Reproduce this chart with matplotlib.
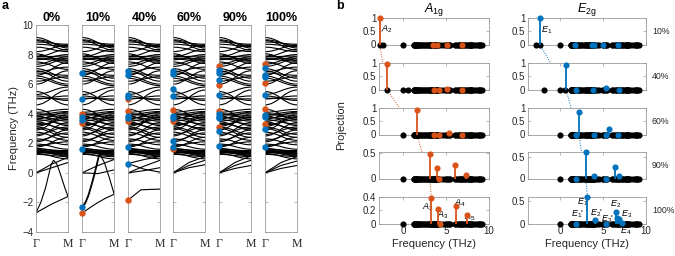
import matplotlib
matplotlib.use('Agg')
import matplotlib.pyplot as plt
from matplotlib.path import Path
from matplotlib.patches import PathPatch
from matplotlib.lines import Line2D

plt.rcParams['font.family'] = ['Liberation Sans', 'DejaVu Sans']
plt.rcParams['mathtext.fontset'] = 'custom'
plt.rcParams['mathtext.rm'] = 'Liberation Sans'
plt.rcParams['mathtext.it'] = 'Liberation Sans:italic'

BLUE = '#0072BD'
ORANGE = '#D95319'
GRAY = '#9a9a9a'
TXT = '#262626'

# ---------------- panel a: phonon bands along Gamma-M ----------------
strains = ['0%', '10%', '40%', '60%', '90%', '100%']

# optical branches (shared look): frequency at Gamma and at M, THz
opt_gamma = [9.15, 9.0, 8.95, 8.85, 8.7, 8.5, 8.2, 8.05, 7.95, 7.85, 7.85, 7.75,
             7.7, 7.65, 7.5, 7.35, 7.2, 7.05, 6.9, 6.85, 6.75, 6.6, 6.55, 6.4,
             6.2, 6.0, 5.5, 5.3, 5.2, 5.05, 5.0, 4.6, 4.3, 4.1, 4.0, 3.95,
             3.9, 3.85, 3.8, 3.7, 3.65, 3.6, 3.5, 3.45, 3.35, 3.25, 3.15, 3.1,
             3.0, 2.9, 2.75, 2.6, 2.5, 2.3, 2.2, 2.1, 1.95, 1.85, 1.75, 1.65,
             1.6, 1.55, 1.5, 1.48, 1.45, 1.42, 1.4, 1.38, 1.35, 1.3, 1.25]
opt_m = [8.45, 8.6, 8.3, 8.7, 8.55, 8.2, 8.65, 7.4, 7.6, 7.9, 8.35, 7.75,
         7.55, 8.0, 7.0, 7.85, 7.7, 6.4, 6.2, 7.15, 6.6, 7.45, 6.0, 5.9,
         6.5, 6.9, 4.6, 5.8, 4.9, 5.0, 5.2, 5.6, 3.6, 4.3, 3.7, 4.15,
         4.0, 3.2, 3.5, 3.9, 4.1, 3.3, 3.8, 2.9, 3.0, 3.6, 3.75, 2.6,
         2.4, 3.95, 2.2, 3.1, 3.4, 1.9, 2.7, 2.9, 1.6, 2.1, 2.4, 1.4,
         1.5, 1.25, 1.35, 1.5, 1.2, 1.15, 1.45, 1.4, 1.3, 0.95, 1.1]

# low-lying / soft branches per strain: (q along Gamma-M, frequency)
low_branches = {
    '0%': [([0, .25, .5, .75, 1], [-2.7, -2.4, -2.1, -1.85, -1.6]),
           ([0, .15, .3, .4, .48, .55, .65, .75, .9, 1],
            [-2.7, -2.0, -1.0, -0.1, 0.6, 0.85, 0.6, 0.0, -1.0, -1.6]),
           ([0, .5, 1], [0, 0.6, 1.05]),
           ([0, .5, 1], [0, 0.35, 0.7])],
    '10%': [([0, .25, .5, .75, 1], [-2.73, -2.35, -2.0, -1.7, -1.45]),
            ([0, .1, .2, .3, .4, .5, .55], [-2.32, -2.1, -1.6, -0.9, -0.1, 0.8, 1.3]),
            ([0, .1, .2, .3, .4, .5, .57], [-2.3, -2.0, -1.45, -0.7, 0.1, 1.0, 1.4]),
            ([.55, .7, .85, 1], [1.3, 0.7, -0.3, -1.4]),
            ([0, .5, 1], [0, 0.5, 0.9]),
            ([0, .5, 1], [0, -0.05, 0.2])],
    '40%': [([0, .2, .4, .7, 1], [-1.85, -1.5, -1.15, -1.12, -1.1]),
            ([0, .5, 1], [0.63, 0.9, 1.1]),
            ([0, .5, 1], [0.63, 0.25, 0.05]),
            ([0, .5, 1], [0, 0.45, 0.85]),
            ([0, .5, 1], [0, 0.15, 0.35])],
    '60%': [([0, .5, 1], [0, 0.5, 0.85]),
            ([0, .5, 1], [0, 0.35, 0.55]),
            ([0, .5, 1], [0, 0.7, 1.1])],
    '90%': [([0, .5, 1], [0, 0.5, 0.85]),
            ([0, .5, 1], [0, 0.3, 0.5]),
            ([0, .5, 1], [0, 0.7, 1.15])],
    '100%': [([0, .5, 1], [0, 0.5, 0.8]),
             ([0, .5, 1], [0, 0.3, 0.5]),
             ([0, .5, 1], [0, 0.7, 1.1])],
}

# Gamma-point modes highlighted (frequency, THz)
a1g_gamma = {'0%': [], '10%': [-2.73, 3.4, 3.99],
             '40%': [-1.85, 3.48, 4.19, 4.98], '60%': [1.62, 3.54, 4.22],
             '90%': [3.09, 4.2, 5.96, 7.24], '100%': [3.29, 4.31, 6.11, 7.36]}
e2g_gamma = {'0%': [], '10%': [-2.32, 1.6, 3.59, 3.77, 4.98, 6.75],
             '40%': [0.63, 1.78, 3.68, 3.86, 5.13, 5.28, 6.59, 6.86],
             '60%': [1.78, 2.17, 3.7, 3.86, 5.21, 5.66, 6.68, 6.9],
             '90%': [1.83, 2.86, 3.7, 3.81, 3.97, 5.28, 6.3, 6.75, 6.97],
             '100%': [1.78, 2.97, 3.77, 3.9, 5.28, 6.48, 6.63, 7.09]}

# ---------------- panel b: projections at Gamma ----------------
rows = ['10%', '40%', '60%', '90%', '100%']
extra_modes = {'10%': [-2.73, -2.32, 0.0], '40%': [-1.85, 0.0, 0.63],
               '60%': [0.0], '90%': [0.0], '100%': [0.0]}

a1g_freq = [[-2.73, 3.5, 4.0, 5.06, 6.8],
            [-1.85, 3.57, 4.15, 5.1, 6.8],
            [1.62, 3.6, 4.2, 5.3, 6.8],
            [3.1, 3.96, 4.2, 6.0, 7.3],
            [3.3, 4.1, 4.3, 6.15, 7.4]]
a1g_proj = [[1.0, 0, 0, 0, 0],
            [0.95, 0, 0, 0.02, 0],
            [0.92, 0, 0, 0.07, 0],
            [0.48, 0.2, 0, 0.27, 0.07],
            [0.38, 0.22, 0, 0.27, 0.13]]
e2g_freq = [[-2.32, 1.75, 3.7, 4.0, 5.0, 6.75],
            [0.7, 1.86, 3.8, 5.35, 6.9],
            [2.2, 1.9, 4.0, 5.35, 5.7, 6.75],
            [3.0, 1.9, 3.95, 5.35, 6.4, 6.85],
            [3.2, 1.86, 4.07, 5.35, 6.5, 6.67, 6.9, 7.17]]
e2g_proj = [[1.0, 0, 0, 0, 0, 0],
            [0.93, 0, 0, 0.06, 0],
            [0.85, 0, 0, 0, 0.2, 0],
            [0.62, 0, 0.05, 0, 0.27, 0.07],
            [0.6, 0, 0.07, 0, 0.25, 0.12, 0.1, 0.02]]

a1g_ylim = [1.0, 1.0, 1.0, 0.52, 0.4]
e2g_ylim = [1.0, 1.0, 1.0, 0.62, 0.6]
a1g_yticks = [[0, 0.5, 1], [0, 0.5, 1], [0, 0.5, 1], [0, 0.5], [0, 0.2, 0.4]]
e2g_yticks = [[0, 0.5, 1], [0, 0.5, 1], [0, 0.5, 1], [0, 0.5], [0, 0.5]]

a1g_labels = [(-1.9, 0.58, '$A_2$', 0), (2.9, 0.26, '$A_2$', 4), (4.6, 0.13, '$A_3$', 4),
              (6.6, 0.31, '$A_4$', 4), (7.8, 0.1, '$A_5$', 4)]
e2g_labels = [(-1.5, 0.55, '$E_1$', 0), (2.7, 0.47, '$E_1$', 4), (2.0, 0.2, "$E_1$'", 4),
              (4.3, 0.24, "$E_2$'", 4), (5.55, 0.1, "$E_3$'", 4), (6.45, 0.43, '$E_2$', 4),
              (7.75, 0.2, '$E_3$', 4), (7.6, -0.17, '$E_4$', 4)]

W, H = 675, 256
fig = plt.figure(figsize=(W / 100, H / 100), dpi=100)


def px_axes(x0, y0, x1, y1):
    return fig.add_axes([x0 / W, 1 - y1 / H, (x1 - x0) / W, (y1 - y0) / H])


def style(ax):
    for s in ax.spines.values():
        s.set_color(GRAY)
        s.set_linewidth(0.6)
    ax.tick_params(direction='in', length=2, width=0.5, color=GRAY,
                   top=True, right=True, labelsize=7, labelcolor=TXT, pad=2)


# panel a
a_left = [36, 82, 128, 173, 219, 265]
for i, s in enumerate(strains):
    ax = px_axes(a_left[i], 25, a_left[i] + 32, 232)
    style(ax)
    ax.set_xlim(0, 1)
    ax.set_ylim(-4, 10)
    ax.set_yticks(range(-4, 11, 2))
    ax.set_xticks([0, 1])
    ax.set_xticklabels(['Γ', 'M'], family=['Liberation Serif', 'DejaVu Serif'], fontsize=8.5)
    ax.tick_params(axis='x', length=0, pad=4)
    if i > 0:
        ax.set_yticklabels([])
    else:
        ax.set_ylabel('Frequency (THz)', fontsize=8, color=TXT, labelpad=2)
    for g, m in zip(opt_gamma, opt_m):
        verts = [(0, g), (0.4, g), (0.6, m), (1, m)]
        codes = [Path.MOVETO, Path.CURVE4, Path.CURVE4, Path.CURVE4]
        ax.add_patch(PathPatch(Path(verts, codes), fc='none', ec='k', lw=0.8))
    for q, f in low_branches[s]:
        ax.plot(q, f, color='k', lw=0.8)
    ax.plot([0] * len(a1g_gamma[s]), a1g_gamma[s], 'o', color=ORANGE, ms=3.6, clip_on=False, zorder=5)
    ax.plot([0] * len(e2g_gamma[s]), e2g_gamma[s], 'o', color=BLUE, ms=3.6, clip_on=False, zorder=6)
    ax.set_title(s, fontsize=9, fontweight='bold', pad=3)

fig.text(2 / W, 1 - 6 / H, 'a', fontsize=9, fontweight='bold', va='center')
fig.text(336 / W, 1 - 6 / H, 'b', fontsize=9, fontweight='bold', va='center')

# panel b
row_top = [18, 63, 108, 152, 197]
row_h = 26.5
col_x = [(379, 489, -2.8), (528, 646, -3.7)]
axes_b = []
for r, s in enumerate(rows):
    pair = []
    for c, (x0, x1, xmin) in enumerate(col_x):
        ax = px_axes(x0, row_top[r], x1, row_top[r] + row_h)
        style(ax)
        ax.set_xlim(xmin, 10)
        ax.set_xticks([0, 5, 10])
        if r < len(rows) - 1:
            ax.set_xticklabels([])
        freqs = extra_modes[s] + opt_gamma
        ax.plot(freqs, [0] * len(freqs), 'o', color='k', ms=3.4, clip_on=False, zorder=3)
        if c == 0:
            fr, pr, col = a1g_freq[r], a1g_proj[r], ORANGE
            ax.set_ylim(0, a1g_ylim[r])
            ax.set_yticks(a1g_yticks[r])
        else:
            fr, pr, col = e2g_freq[r], e2g_proj[r], BLUE
            ax.set_ylim(0, e2g_ylim[r])
            ax.set_yticks(e2g_yticks[r])
        ax.set_yticklabels([f'{t:g}' for t in ax.get_yticks()])
        ax.vlines(fr, 0, pr, color=col, lw=1.3, zorder=4, clip_on=False)
        ax.plot(fr, pr, 'o', color=col, ms=3.4, clip_on=False, zorder=5)
        pair.append(ax)
    axes_b.append(pair)
    fig.text(652 / W, 1 - (row_top[r] + row_h / 2) / H, s, fontsize=6.3, color=TXT, va='center')

for c, labels in enumerate([a1g_labels, e2g_labels]):
    for x, y, t, r in labels:
        axes_b[r][c].text(x, y, t, fontsize=6.5, color='k', ha='center', va='center', clip_on=False)

axes_b[0][0].set_title('$A_{\\mathrm{1g}}$', fontsize=9, pad=0)
axes_b[0][1].set_title('$E_{\\mathrm{2g}}$', fontsize=9, pad=0)
for c in range(2):
    axes_b[-1][c].set_xlabel('Frequency (THz)', fontsize=8, color=TXT, labelpad=2)
fig.text(341 / W, 1 - 125 / H, 'Projection', rotation=90, fontsize=8, color=TXT,
         ha='center', va='center')

# dotted guides following the main A2 / E1 modes through the strain rows
inv = fig.transFigure.inverted()
for c, fr_list, pr_list, col in [(0, a1g_freq, a1g_proj, ORANGE), (1, e2g_freq, e2g_proj, BLUE)]:
    pts = []
    for r in range(len(rows)):
        y = pr_list[r][0] if r == len(rows) - 1 else 0
        pts.append(inv.transform(axes_b[r][c].transData.transform((fr_list[r][0], y))))
    xs = [p[0] for p in pts]
    ys = [p[1] for p in pts]
    fig.add_artist(Line2D(xs, ys, transform=fig.transFigure, color=col, lw=0.7,
                          linestyle=(0, (1, 1.5)), zorder=0))

fig.savefig('out.png', dpi=100)
